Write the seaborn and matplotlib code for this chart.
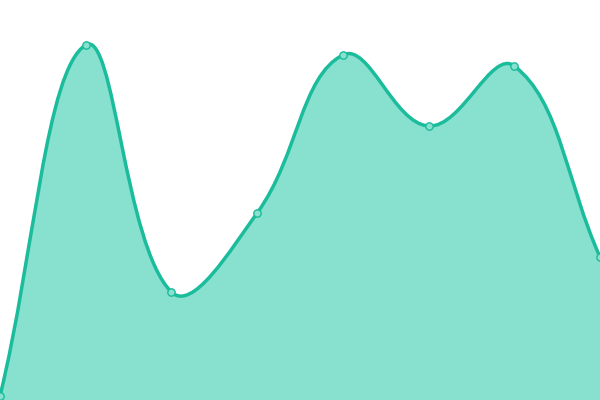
import numpy as np
import matplotlib
matplotlib.use("Agg")
import matplotlib.pyplot as plt
import seaborn as sns
from matplotlib.path import Path
from matplotlib.patches import PathPatch

# data (y in 0..100 scale)
steps = [0, 1, 2, 3, 4, 5, 6, 7]
values = [1, 88.75, 27, 46.75, 86.25, 68.5, 83.5, 35.75]

line_color = "#1abc9c"
fill_color = "#88e0cf"
tension = 0.4

sns.set_style("white")
fig = plt.figure(figsize=(6, 4), dpi=100)
ax = fig.add_axes([0, 0, 1, 1])
ax.set_xlim(0, 7)
ax.set_ylim(0, 100)
ax.axis("off")

# spline control points computed in pixel space (Chart.js-like)
pts = ax.transData.transform(np.column_stack([steps, values]))
n = len(pts)
cp_prev = pts.copy()
cp_next = pts.copy()
for i in range(n):
    p0 = pts[max(i - 1, 0)]
    p1 = pts[i]
    p2 = pts[min(i + 1, n - 1)]
    d01 = np.hypot(*(p1 - p0))
    d12 = np.hypot(*(p2 - p1))
    tot = d01 + d12
    s01 = d01 / tot if tot else 0
    s12 = d12 / tot if tot else 0
    cp_prev[i] = p1 - tension * s01 * (p2 - p0)
    cp_next[i] = p1 + tension * s12 * (p2 - p0)

inv = ax.transData.inverted()
verts = [inv.transform(pts[0])]
codes = [Path.MOVETO]
for i in range(n - 1):
    verts += [inv.transform(cp_next[i]), inv.transform(cp_prev[i + 1]), inv.transform(pts[i + 1])]
    codes += [Path.CURVE4] * 3

line_path = Path(verts, codes)
area_path = Path(verts + [(steps[-1], 0), (steps[0], 0), verts[0]],
                 codes + [Path.LINETO, Path.LINETO, Path.CLOSEPOLY])

ax.add_patch(PathPatch(area_path, facecolor=fill_color, edgecolor="none", zorder=1))
ax.add_patch(PathPatch(line_path, facecolor="none", edgecolor=line_color, lw=2.5, zorder=2))

sns.scatterplot(x=steps, y=values, ax=ax, s=28, color=fill_color,
                edgecolor=line_color, linewidth=1, zorder=3)

fig.savefig("out.png", dpi=100)
